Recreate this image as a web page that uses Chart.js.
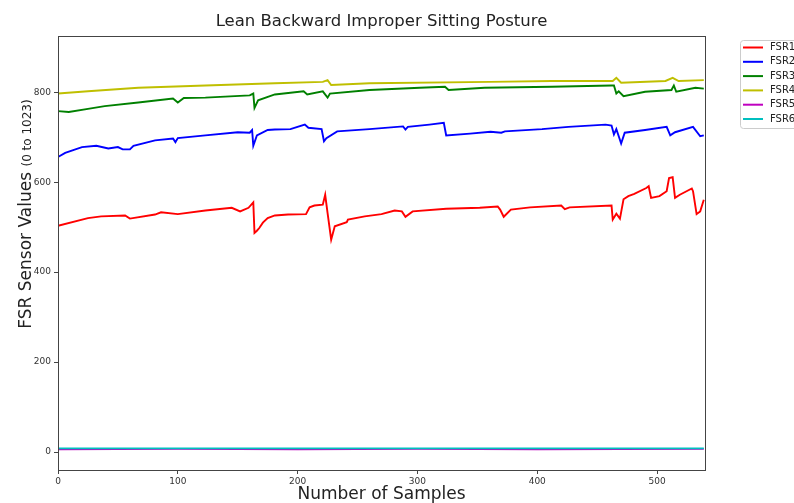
<!DOCTYPE html>
<html>
<head>
<meta charset="utf-8">
<script src="https://cdn.jsdelivr.net/npm/chart.js@4.4.1/dist/chart.umd.min.js"></script>
<style>
  html, body { margin: 0; padding: 0; background: #fff; }
  canvas { display: block; }
</style>
</head>
<body>
<canvas id="posture_chart" width="794" height="503"></canvas>
<script>
// sample index / sensor reading pairs
const fsr1X = [0, 25, 36, 56, 60, 81, 86, 100, 123, 145, 152, 159, 163, 164, 166, 168, 171, 175, 181, 192, 207, 210, 214, 221, 223, 225, 228, 231, 241, 242, 256, 270, 281, 287, 290, 296, 324, 352, 367, 369, 372, 378, 394, 420, 423, 427, 462, 463, 466, 469, 472, 476, 481, 491, 493, 495, 502, 508, 510, 513, 515, 519, 529, 530, 533, 536, 539];
const fsr1Y = [503, 520, 524, 526, 519, 528, 533, 529, 537, 543, 535, 543, 555, 487, 492, 498, 510, 520, 526, 528, 529, 544, 548, 550, 572, 531, 472, 502, 511, 517, 524, 529, 537, 535, 523, 535, 541, 543, 546, 539, 523, 539, 544, 548, 540, 544, 548, 517, 530, 519, 562, 569, 574, 587, 591, 565, 569, 580, 609, 611, 565, 572, 586, 580, 529, 535, 561];

const fsr2X = [0, 6, 20, 32, 42, 50, 54, 60, 63, 81, 96, 98, 100, 123, 150, 160, 162, 163, 166, 175, 181, 194, 206, 209, 220, 222, 224, 233, 260, 288, 290, 292, 310, 322, 324, 344, 361, 370, 373, 404, 426, 457, 462, 464, 466, 468, 470, 473, 490, 508, 511, 515, 530, 536, 539];
const fsr2Y = [656, 665, 678, 681, 675, 678, 673, 673, 681, 693, 697, 689, 698, 704, 711, 710, 716, 681, 704, 716, 717, 718, 728, 721, 718, 691, 698, 713, 718, 724, 717, 723, 728, 732, 704, 708, 712, 710, 713, 718, 723, 728, 726, 706, 718, 702, 686, 710, 716, 723, 704, 711, 723, 702, 704];

const fsr3X = [0, 9, 25, 39, 67, 96, 100, 105, 123, 160, 163, 164, 167, 181, 205, 208, 221, 225, 227, 260, 302, 323, 326, 356, 412, 462, 464, 466, 468, 472, 490, 512, 514, 516, 532, 539];
const fsr3Y = [758, 756, 763, 769, 777, 786, 777, 787, 788, 793, 797, 765, 782, 795, 802, 795, 802, 788, 797, 805, 810, 812, 805, 810, 812, 815, 815, 797, 802, 791, 801, 805, 815, 801, 810, 808];

const fsr4X = [0, 25, 67, 123, 181, 221, 225, 228, 260, 361, 412, 463, 466, 470, 507, 513, 518, 539];
const fsr4Y = [797, 802, 810, 815, 820, 823, 827, 816, 820, 823, 825, 825, 832, 821, 825, 832, 825, 827];

const fsr5X = [0, 100, 200, 300, 400, 539];
const fsr5Y = [6, 7, 6, 7, 6, 7];

const fsr6X = [0, 100, 200, 300, 400, 539];
const fsr6Y = [8, 8, 8, 8, 8, 8];

const seriesNames = ['FSR1', 'FSR2', 'FSR3', 'FSR4', 'FSR5', 'FSR6'];
const seriesColors = ['#ff0000', '#0000ff', '#008000', '#bfbf00', '#bf00bf', '#00bfbf'];
const xTicks = [0, 100, 200, 300, 400, 500];
const yTicks = [0, 200, 400, 600, 800];

const allX = [fsr1X, fsr2X, fsr3X, fsr4X, fsr5X, fsr6X];
const allY = [fsr1Y, fsr2Y, fsr3Y, fsr4Y, fsr5Y, fsr6Y];

const FONT = "'DejaVu Sans', 'Liberation Sans', sans-serif";

const datasets = seriesNames.map((name, i) => ({
    label: name,
    data: allX[i].map((x, k) => ({ x: x, y: allY[i][k] })),
    borderColor: seriesColors[i],
    backgroundColor: seriesColors[i],
    borderWidth: 1.9,
    pointRadius: 0,
    tension: 0,
    order: seriesNames.length - i
}));

// frame, title, axis titles and legend, drawn like matplotlib does
const decorations = {
    id: 'decorations',
    afterDraw(chart) {
        const ctx = chart.ctx;
        const a = chart.chartArea;
        ctx.save();

        ctx.strokeStyle = '#444';
        ctx.lineWidth = 1;
        ctx.strokeRect(a.left + 0.5, a.top + 0.5, a.right - a.left, a.bottom - a.top);

        ctx.fillStyle = '#222';
        ctx.textAlign = 'center';
        ctx.textBaseline = 'middle';
        ctx.font = '16.5px ' + FONT;
        ctx.fillText('Lean Backward Improper Sitting Posture', (a.left + a.right) / 2, 22);

        ctx.font = '17px ' + FONT;
        ctx.fillText('Number of Samples', (a.left + a.right) / 2, 495);

        // y label: big part + smaller range note, rotated
        ctx.translate(25, 0);
        ctx.rotate(-Math.PI / 2);
        ctx.textAlign = 'left';
        ctx.textBaseline = 'alphabetic';
        ctx.font = '17px ' + FONT;
        const big = 'FSR Sensor Values ';
        const bigW = ctx.measureText(big).width;
        ctx.font = '12px ' + FONT;
        const small = '(0 to 1023)';
        const smallW = ctx.measureText(small).width;
        const startY = -(214 + (bigW + smallW) / 2);
        ctx.font = '17px ' + FONT;
        ctx.fillText(big, startY, 6);
        ctx.font = '12px ' + FONT;
        ctx.fillText(small, startY + bigW, 6);
        ctx.setTransform(1, 0, 0, 1, 0, 0);

        // legend box outside the plot
        ctx.fillStyle = '#fff';
        ctx.strokeStyle = '#cccccc';
        ctx.beginPath();
        ctx.roundRect(740.5, 40.5, 70, 88, 3);
        ctx.fill();
        ctx.stroke();
        ctx.font = '10px ' + FONT;
        ctx.textAlign = 'left';
        ctx.textBaseline = 'middle';
        chart.data.datasets.forEach((ds, i) => {
            const y = 47.5 + i * 14.3;
            ctx.strokeStyle = ds.borderColor;
            ctx.lineWidth = 2;
            ctx.beginPath();
            ctx.moveTo(743, y);
            ctx.lineTo(763, y);
            ctx.stroke();
            ctx.fillStyle = '#222';
            ctx.fillText(ds.label, 770, y);
        });
        ctx.restore();
    }
};

new Chart(document.getElementById('posture_chart'), {
    type: 'line',
    data: { datasets: datasets },
    options: {
        responsive: false,
        animation: false,
        layout: { padding: { left: 0, right: 89, top: 36, bottom: 0 } },
        scales: {
            x: {
                type: 'linear',
                min: 0,
                max: 540,
                afterFit: s => { s.height = 33; },
                afterBuildTicks: s => { s.ticks = xTicks.map(v => ({ value: v })); },
                grid: { drawOnChartArea: false, drawTicks: true, tickLength: 4, color: '#444' },
                border: { display: false },
                ticks: { font: { family: FONT, size: 9 }, color: '#333', padding: 2, maxRotation: 0 }
            },
            y: {
                type: 'linear',
                min: -40,
                max: 925,
                afterFit: s => { s.width = 58; },
                afterBuildTicks: s => { s.ticks = yTicks.map(v => ({ value: v })); },
                grid: { drawOnChartArea: false, drawTicks: true, tickLength: 4, color: '#444' },
                border: { display: false },
                ticks: { font: { family: FONT, size: 9 }, color: '#333', padding: 3 }
            }
        },
        plugins: {
            legend: { display: false },
            tooltip: { enabled: false }
        }
    },
    plugins: [decorations]
});
</script>
</body>
</html>
